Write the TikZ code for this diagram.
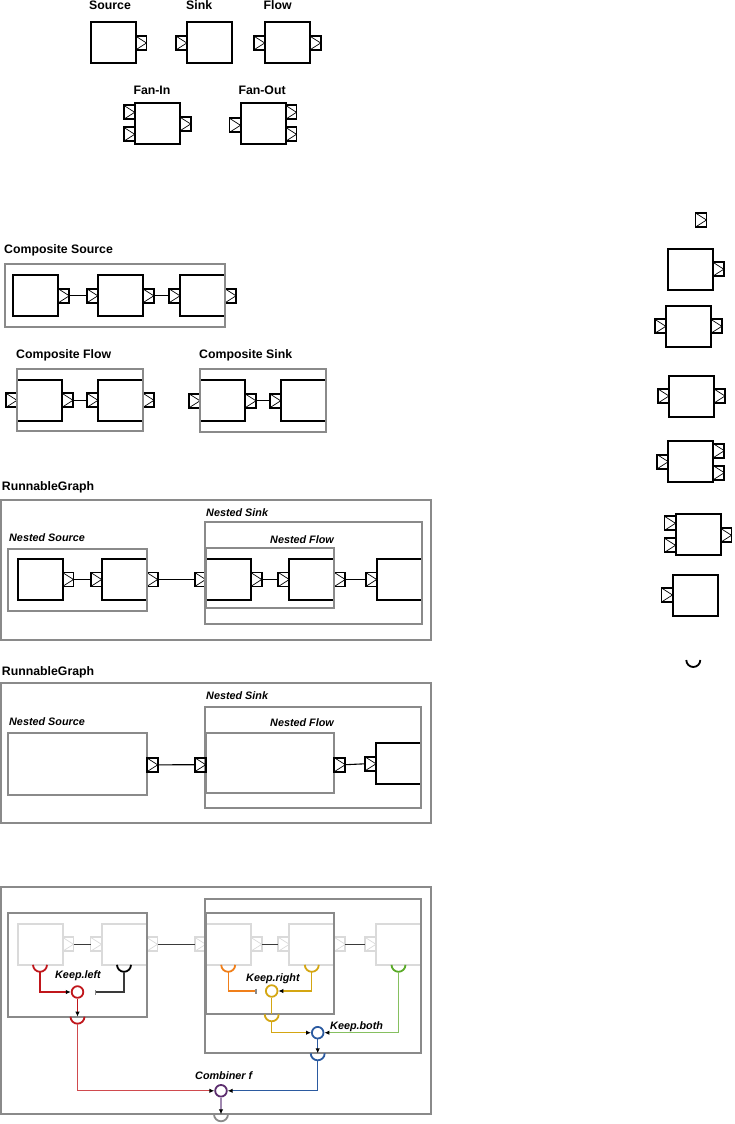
\documentclass[tikz,border=0pt]{standalone}
\usepackage{fontspec}
\setmainfont{Liberation Sans}
\usetikzlibrary{arrows.meta,calc}
\definecolor{cgray}{HTML}{8A8A8A}
\definecolor{lgray}{HTML}{DADADA}
\definecolor{dgray}{HTML}{3A3A3A}
\definecolor{kred}{HTML}{C0161B}
\definecolor{kredl}{HTML}{D04A4E}
\definecolor{korange}{HTML}{F07F1A}
\definecolor{kgold}{HTML}{D4A612}
\definecolor{kgreen}{HTML}{5AAA28}
\definecolor{kgreenl}{HTML}{86C060}
\definecolor{kblue}{HTML}{2B5AA0}
\definecolor{kpurple}{HTML}{5C2D6E}
\definecolor{kpurplel}{HTML}{A088B0}
\newcommand\cupat[2]{\draw[#1,line width=1.8pt] ($(#2)+(-7,0)$) arc[start angle=180,end angle=360,radius=7pt];}
\begin{document}
\begin{tikzpicture}[x=1pt,y=-1pt,
  box/.style={draw=#1,line width=2pt,minimum width=45pt,minimum height=41pt,inner sep=0pt,outer sep=0pt},
  box/.default=black,
  port/.style={draw=#1,line width=1.8pt,minimum width=11pt,minimum height=14pt,inner sep=0pt,outer sep=0pt,
    path picture={\draw[#1,line width=0.7pt] (path picture bounding box.north west) -- (path picture bounding box.east) -- (path picture bounding box.south west);}},
  port/.default=black,
  cont/.style={draw=cgray,line width=2pt,inner sep=0pt,outer sep=0pt},
  link/.style={line width=1.1pt,draw=#1},
  link/.default=black,
  circ/.style={circle,draw=#1,line width=1.8pt,minimum size=11.6pt,inner sep=0pt,outer sep=0.9pt},
  arr/.style={-{Latex[length=5pt,width=4.5pt,color=black]}},
  title/.style={anchor=base west,inner sep=0pt,font=\fontsize{12.3}{14}\selectfont\bfseries},
  ilab/.style={anchor=base west,inner sep=0pt,font=\fontsize{10.8}{13}\selectfont\bfseries\itshape}
]
\useasboundingbox (0,0) rectangle (734,1124);

% ---------- top primitives ----------
\node[title] (tSrc) at (89,9.8) {Source};
\node[title] (tSnk) at (186,9.8) {Sink};
\node[title] (tFlw) at (263.5,9.8) {Flow};
\node[title] (tFin) at (133.3,94) {Fan-In};
\node[title] (tFout) at (238.3,94) {Fan-Out};

\node[box] (src) at (113,43) {};
\node[port,anchor=west] (srcO) at (src.east) {};
\node[box] (snk) at (209.3,43) {};
\node[port,anchor=east] (snkI) at (snk.west) {};
\node[box] (flw) at (287.2,43) {};
\node[port,anchor=east] (flwI) at (flw.west) {};
\node[port,anchor=west] (flwO) at (flw.east) {};
\node[box] (fin) at (157.2,123.3) {};
\node[port,anchor=east] (finI1) at ($(fin.west)+(0,-11)$) {};
\node[port,anchor=east] (finI2) at ($(fin.west)+(0,11)$) {};
\node[port,anchor=west] (finO) at ($(fin.east)+(0,0.7)$) {};
\node[box] (fout) at (263,123.3) {};
\node[port,anchor=east] (foutI) at ($(fout.west)+(0,2)$) {};
\node[port,anchor=west] (foutO1) at ($(fout.east)+(0,-11)$) {};
\node[port,anchor=west] (foutO2) at ($(fout.east)+(0,11)$) {};

% ---------- right column ----------
\node[port] (rp) at (701,220) {};
\node[box] (r1) at (690.3,269.2) {};
\node[port,anchor=west] (r1O) at (r1.east) {};
\node[box] (r2) at (688.3,326.3) {};
\node[port,anchor=east] (r2I) at (r2.west) {};
\node[port,anchor=west] (r2O) at (r2.east) {};
\node[box] (r3) at (691.5,396) {};
\node[port,anchor=east] (r3I) at (r3.west) {};
\node[port,anchor=west] (r3O) at (r3.east) {};
\node[box] (r4) at (690.8,461.7) {};
\node[port,anchor=east] (r4I) at (r4.west) {};
\node[port,anchor=west] (r4O1) at ($(r4.east)+(0,-11)$) {};
\node[port,anchor=west] (r4O2) at ($(r4.east)+(0,11)$) {};
\node[box] (r5) at (698,534.3) {};
\node[port,anchor=east] (r5I1) at ($(r5.west)+(0,-11)$) {};
\node[port,anchor=east] (r5I2) at ($(r5.west)+(0,11)$) {};
\node[port,anchor=west] (r5O) at ($(r5.east)+(0,1)$) {};
\node[box] (r6) at (695,595) {};
\node[port,anchor=east] (r6I) at (r6.west) {};
\coordinate (rcup) at (693.3,660);
\cupat{black}{rcup}

% ---------- composite source ----------
\node[title] (tCS) at (4,253.1) {Composite Source};
\node[box] (cs1) at (35.8,295.8) {};
\node[port,anchor=west] (cs1O) at (cs1.east) {};
\node[box] (cs2) at (120.3,295.8) {};
\node[port,anchor=east] (cs2I) at (cs2.west) {};
\node[port,anchor=west] (cs2O) at (cs2.east) {};
\node[box] (cs3) at (202.5,295.8) {};
\node[port,anchor=east] (cs3I) at (cs3.west) {};
\node[port,anchor=west] (cs3O) at (cs3.east) {};
\draw[link] (cs1O.east) -- (cs2I.west);
\draw[link] (cs2O.east) -- (cs3I.west);
\node[cont,minimum width=220pt,minimum height=63pt] (csC) at (115,295.8) {};

% ---------- composite flow ----------
\node[title] (tCF) at (16,358.1) {Composite Flow};
\node[box] (cf1) at (39.5,400.3) {};
\node[port,anchor=east] (cf1I) at (cf1.west) {};
\node[port,anchor=west] (cf1O) at (cf1.east) {};
\node[box] (cf2) at (120.5,400.3) {};
\node[port,anchor=east] (cf2I) at (cf2.west) {};
\node[port,anchor=west] (cf2O) at (cf2.east) {};
\draw[link] (cf1O.east) -- (cf2I.west);
\node[cont,minimum width=126pt,minimum height=62pt] (cfC) at (80,400.3) {};

% ---------- composite sink ----------
\node[title] (tCK) at (199,358.1) {Composite Sink};
\node[box] (ck1) at (222.5,400.8) {};
\node[port,anchor=east] (ck1I) at (ck1.west) {};
\node[port,anchor=west] (ck1O) at (ck1.east) {};
\node[box] (ck2) at (303.2,400.8) {};
\node[port,anchor=east] (ck2I) at (ck2.west) {};
\draw[link] (ck1O.east) -- (ck2I.west);
\node[cont,minimum width=125.7pt,minimum height=63pt] (ckC) at (262.85,400.8) {};

% ---------- runnable graph 1 ----------
\node[title] (tRG1) at (1.7,490.5) {RunnableGraph};
\node[ilab] (tNK1) at (206,516) {Nested Sink};
\node[ilab] (tNS1) at (9,541) {Nested Source};
\node[ilab] (tNF1) at (270,543.4) {Nested Flow};
\node[box] (a1) at (40,579.5) {};
\node[port,anchor=west] (a1O) at (a1.east) {};
\node[box] (b1) at (124.2,579.5) {};
\node[port,anchor=east] (b1I) at (b1.west) {};
\node[port,anchor=west] (b1O) at (b1.east) {};
\node[box] (c1) at (228.2,579.5) {};
\node[port,anchor=east] (c1I) at (c1.west) {};
\node[port,anchor=west] (c1O) at (c1.east) {};
\node[box] (d1) at (311.8,579.5) {};
\node[port,anchor=east] (d1I) at (d1.west) {};
\node[port,anchor=west] (d1O) at (d1.east) {};
\node[box] (e1) at (399.2,579.5) {};
\node[port,anchor=east] (e1I) at (e1.west) {};
\draw[link] (a1O.east) -- (b1I.west);
\draw[link] (b1O.east) -- (c1I.west);
\draw[link] (c1O.east) -- (d1I.west);
\draw[link] (d1O.east) -- (e1I.west);
\node[cont,minimum width=430pt,minimum height=140pt] (rg1) at (216,570.3) {};
\node[cont,minimum width=216.7pt,minimum height=101.7pt] (nk1) at (313.35,573.15) {};
\node[cont,minimum width=138.4pt,minimum height=61.7pt] (ns1) at (77.5,579.85) {};
\node[cont,minimum width=128.6pt,minimum height=60pt] (nf1) at (270,578.3) {};

% ---------- runnable graph 2 ----------
\node[title] (tRG2) at (1.7,675.5) {RunnableGraph};
\node[ilab] (tNK2) at (206,699.4) {Nested Sink};
\node[ilab] (tNS2) at (9,725.4) {Nested Source};
\node[ilab] (tNF2) at (270,726.7) {Nested Flow};
\node[box] (e2) at (398.5,763.8) {};
\node[port,anchor=east] (e2I) at (e2.west) {};
\node[cont,minimum width=430pt,minimum height=140pt] (rg2) at (216,753.3) {};
\node[cont,minimum width=216pt,minimum height=101pt] (nk2) at (313,757.2) {};
\node[cont,minimum width=138.4pt,minimum height=62.3pt] (ns2) at (77.5,763.85) {};
\node[cont,minimum width=128.6pt,minimum height=60.6pt] (nf2) at (270,763) {};
\node[port,anchor=west] (ns2O) at ($(ns2.east)+(0,1)$) {};
\node[port,anchor=east] (nf2I) at ($(nf2.west)+(0,1.7)$) {};
\node[port,anchor=west] (nf2O) at ($(nf2.east)+(0,1.7)$) {};
\draw[link] (ns2O.east) -- (nf2I.west);
\draw[link] (nf2O.east) -- (e2I.west);

% ---------- materialized values ----------
\node[box=lgray] (a3) at (40,944.3) {};
\node[port=lgray,anchor=west] (a3O) at (a3.east) {};
\node[box=lgray] (b3) at (124,944.3) {};
\node[port=lgray,anchor=east] (b3I) at (b3.west) {};
\node[port=lgray,anchor=west] (b3O) at (b3.east) {};
\node[box=lgray] (c3) at (228.2,944.3) {};
\node[port=lgray,anchor=east] (c3I) at (c3.west) {};
\node[port=lgray,anchor=west] (c3O) at (c3.east) {};
\node[box=lgray] (d3) at (311.8,944.3) {};
\node[port=lgray,anchor=east] (d3I) at (d3.west) {};
\node[port=lgray,anchor=west] (d3O) at (d3.east) {};
\node[box=lgray] (e3) at (398.5,944.3) {};
\node[port=lgray,anchor=east] (e3I) at (e3.west) {};
\draw[link=dgray] (a3O.east) -- (b3I.west);
\draw[link=dgray] (b3O.east) -- (c3I.west);
\draw[link=dgray] (c3O.east) -- (d3I.west);
\draw[link=dgray] (d3O.east) -- (e3I.west);
\node[cont,minimum width=430pt,minimum height=227.6pt] (rg3) at (216,1000.5) {};
\node[cont,minimum width=216pt,minimum height=154pt] (nk3) at (313,976.3) {};
\node[cont,minimum width=138.4pt,minimum height=103.4pt] (ns3) at (77.5,965) {};
\node[cont,minimum width=128.6pt,minimum height=101pt] (nf3) at (270,963.8) {};

\node[circ=kred] (kl) at (77.5,992) {};
\node[circ=kgold] (kr) at (271.7,991) {};
\node[circ=kblue] (kb) at (317.7,1032.7) {};
\node[circ=kpurple] (cf) at (221,1090.8) {};
\node[ilab] (tKL) at (55,978.7) {Keep.left};
\node[ilab] (tKR) at (246,981) {Keep.right};
\node[ilab] (tKB) at (330,1029.4) {Keep.both};
\node[ilab] (tCF) at (195,1079.4) {Combiner f};

% cups on the stages
\cupat{kred}{a3.south}
\cupat{black}{b3.south}
\cupat{korange}{c3.south}
\cupat{kgold}{d3.south}
\cupat{kgreen}{e3.south}
\coordinate (ca) at ($(a3.south)+(0,7)$);
\coordinate (cb) at ($(b3.south)+(0,7)$);
\coordinate (cc) at ($(c3.south)+(0,7)$);
\coordinate (cd) at ($(d3.south)+(0,7)$);
\coordinate (ce) at ($(e3.south)+(0,7)$);
\coordinate (barL) at (95,992);
\coordinate (barR) at (256.5,991);

% cups on the containers
\coordinate (uNS) at (kl |- ns3.south);
\coordinate (uNF) at (kr |- nf3.south);
\coordinate (uNK) at (kb |- nk3.south);
\coordinate (uRG) at (cf |- rg3.south);
\cupat{kred}{uNS}
\cupat{kgold}{uNF}
\cupat{kblue}{uNK}
\cupat{cgray}{uRG}
\coordinate (lNS) at ($(uNS)+(0,7)$);
\coordinate (lNF) at ($(uNF)+(0,7)$);
\coordinate (lNK) at ($(uNK)+(0,7)$);

\draw[link=kred,arr] (ca) |- (kl.west);
\draw[link=dgray,-{Bar[width=5pt,color=cgray]}] (cb) |- (barL);
\draw[link=korange,-{Bar[width=5pt,color=cgray]}] (cc) |- (barR);
\draw[link=kgold,arr] (cd) |- (kr.east);
\draw[link=kred,arr] (kl.south) -- (uNS);
\draw[link=kgold] (kr.south) -- (uNF);
\draw[link=kgold,arr] (lNF) |- (kb.west);
\draw[link=kgreenl,arr] (ce) |- (kb.east);
\draw[link=kblue,arr] (kb.south) -- (uNK);
\draw[link=kredl,arr] (lNS) |- (cf.west);
\draw[link=kblue,arr] (lNK) |- (cf.east);
\draw[link=kpurplel,arr] (cf.south) -- (uRG);
\end{tikzpicture}
\end{document}
